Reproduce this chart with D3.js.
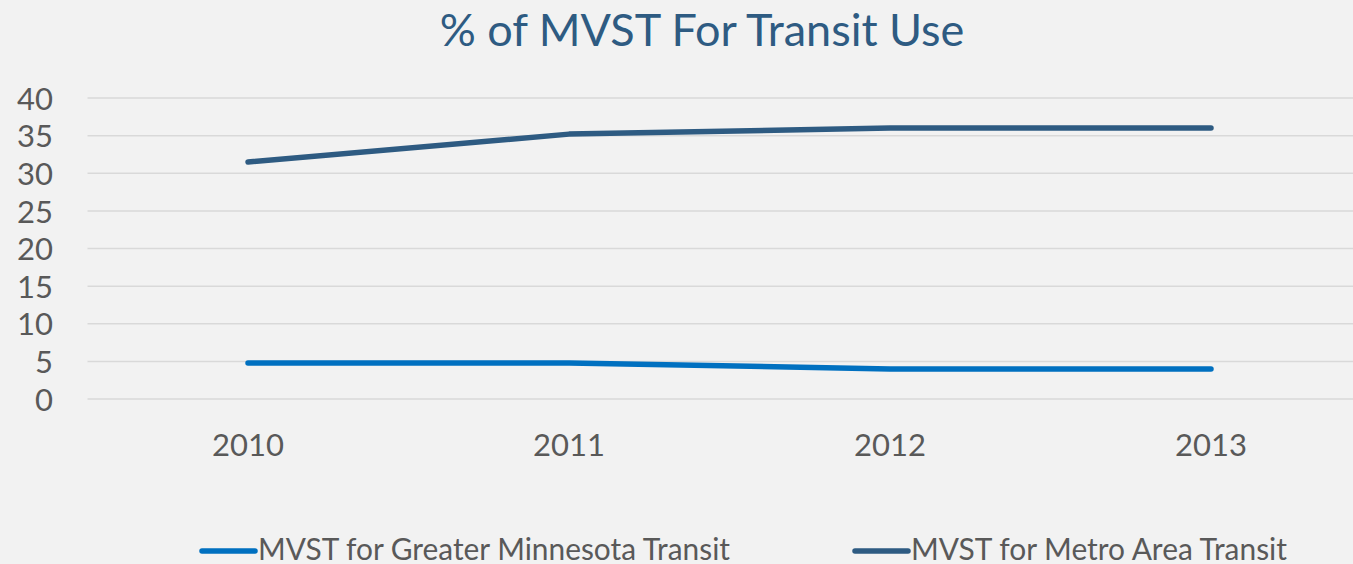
<!DOCTYPE html>
<html><head><meta charset="utf-8">
<script src="https://cdn.jsdelivr.net/npm/d3@7"></script>
<style>html,body{margin:0;padding:0;background:#F2F2F2;overflow:hidden}</style>
</head><body><svg id="c" width="1353" height="564"></svg>
<script>
const categories = ["2010","2011","2012","2013"];
const greaterMN = [4.8, 4.8, 4.0, 4.0];
const metroArea = [31.5, 35.2, 36.0, 36.0];
const yTicks = [0,5,10,15,20,25,30,35,40];
const seriesNames = ["MVST for Greater Minnesota Transit","MVST for Metro Area Transit"];
const seriesColors = ["#0070C0","#2E5B82"];

const svg = d3.select("#c");
svg.append("rect").attr("width",1353).attr("height",564).attr("fill","#F2F2F2");
const font = "Lato, 'Open Sans', sans-serif";

const x = d3.scaleBand().domain(categories).range([87.5, 1371.5]);
const y = d3.scaleLinear().domain([0,40]).range([399, 98]);

// gridlines
svg.append("g").selectAll("line").data(yTicks).join("line")
  .attr("x1",87.5).attr("x2",1371.5)
  .attr("y1",d=>y(d)).attr("y2",d=>y(d))
  .attr("stroke","#D9D9D9").attr("stroke-width",1.5);

// y axis labels
const yAxis = d3.axisLeft(y).tickValues(yTicks).tickSize(0).tickPadding(0);
const gy = svg.append("g").attr("transform","translate(53,0)").call(yAxis);
gy.select(".domain").remove();
gy.selectAll("text").attr("font-family",font).attr("font-size",31).attr("fill","#595959").attr("dy","0.36em");

// x axis labels
const xAxis = d3.axisBottom(x).tickSize(0).tickPadding(0);
const gx = svg.append("g").attr("transform","translate(0,434)").call(xAxis);
gx.select(".domain").remove();
gx.selectAll("text").attr("font-family",font).attr("font-size",31).attr("fill","#595959").attr("dy","0.7em");

const line = d3.line().x((d,i)=>x(categories[i])+x.bandwidth()/2).y(d=>y(d));
[greaterMN, metroArea].forEach((s,k)=>{
  svg.append("path").attr("d",line(s)).attr("fill","none")
    .attr("stroke",seriesColors[k]).attr("stroke-width",5.5)
    .attr("stroke-linecap","round").attr("stroke-linejoin","round");
});

// title
svg.append("text").attr("x",702).attr("y",46).attr("text-anchor","middle")
  .attr("font-family",font).attr("font-size",45).attr("fill","#2E5B82")
  .text("% of MVST For Transit Use");

// legend
const legX = [200, 853], legW = [472, 376];
seriesNames.forEach((n,k)=>{
  svg.append("line").attr("x1",legX[k]+2).attr("x2",legX[k]+55).attr("y1",551).attr("y2",551)
    .attr("stroke",seriesColors[k]).attr("stroke-width",5.5).attr("stroke-linecap","round");
  svg.append("text").attr("x",legX[k]+58).attr("y",560)
    .attr("font-family",font).attr("font-size",30).attr("fill","#595959")
    .attr("textLength",legW[k]).attr("lengthAdjust","spacingAndGlyphs").text(n);
});
</script></body></html>
